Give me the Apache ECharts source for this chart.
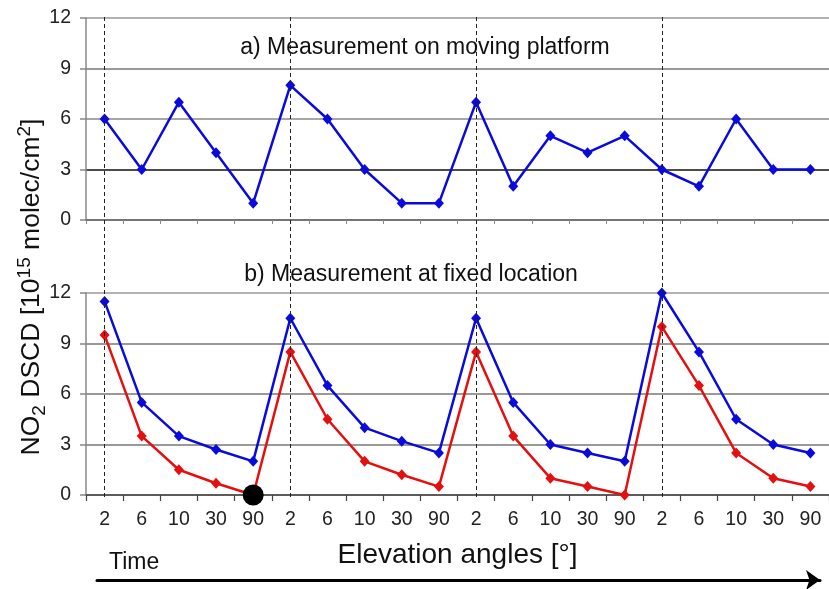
<!DOCTYPE html>
<html><head><meta charset="utf-8">
<script src="https://cdn.jsdelivr.net/npm/echarts@6/dist/echarts.min.js"></script>
<style>html,body{margin:0;padding:0;background:#fff}#c{width:829px;height:589px}</style>
</head><body><div id="c"></div>
<script>
const categories = ['2','6','10','30','90','2','6','10','30','90','2','6','10','30','90','2','6','10','30','90'];
const movingPlatform = [6,3,7,4,1,8,6,3,1,1,7,2,5,4,5,3,2,6,3,3];
const fixedBlue = [11.5,5.5,3.5,2.7,2,10.5,6.5,4,3.2,2.5,10.5,5.5,3,2.5,2,12,8.5,4.5,3,2.5];
const fixedRed = [9.5,3.5,1.5,0.7,0,8.5,4.5,2,1.2,0.5,8.5,3.5,1,0.5,0,10,6.5,2.5,1,0.5];
const yMin = 0, yMax = 12, yInterval = 3;
const scanStarts = [0,5,10,15];
const highlightPoint = [4, 0];

const FONT = '"Liberation Sans", Arial, sans-serif';
const BLUE = '#0a0adc', RED = '#e60f0f';

const chart = echarts.init(document.getElementById('c'), null, {renderer:'canvas'});

function yAxisCfg(gridIndex, splitColors){
  return {
    type:'value', gridIndex, min:yMin, max:yMax, interval:yInterval,
    axisLine:{show:true, lineStyle:{color:'#888', width:1.5}},
    axisTick:{show:true, length:6, lineStyle:{color:'#888', width:1.5}},
    axisLabel:{fontFamily:FONT, fontSize:19.5, color:'#222', margin:15},
    splitLine:{show:true, lineStyle:{color:splitColors, width:1.5}}
  };
}
const lineStyleCommon = {width:2.5};

chart.setOption({
  animation:false,
  backgroundColor:'#fff',
  textStyle:{fontFamily:FONT},
  title:[
    {text:'a) Measurement on moving platform', left:420, top:31, textAlign:'center',
     textStyle:{fontFamily:FONT, fontSize:23, fontWeight:'normal', color:'#111'}},
    {text:'b) Measurement at fixed location', left:406, top:258, textAlign:'center',
     textStyle:{fontFamily:FONT, fontSize:23, fontWeight:'normal', color:'#111'}},
    {text:'Time', left:104, top:546,
     textStyle:{fontFamily:FONT, fontSize:23, fontWeight:'normal', color:'#111'}}
  ],
  grid:[
    {left:86, right:0, top:18, height:202},
    {left:86, right:0, top:293, height:202},
    {left:86, right:0, top:17, height:480},
    {left:97, right:9, top:578, height:2}
  ],
  xAxis:[
    {type:'category', gridIndex:0, data:categories, boundaryGap:true,
     axisLine:{show:true, lineStyle:{color:'#666', width:1.5}},
     axisTick:{show:true, length:4, lineStyle:{color:'#888'}},
     axisLabel:{show:false}},
    {type:'category', gridIndex:1, data:categories, boundaryGap:true,
     axisLine:{show:true, lineStyle:{color:'#444', width:1.5}},
     axisTick:{show:true, length:6, lineStyle:{color:'#444', width:1.2}},
     axisLabel:{fontFamily:FONT, fontSize:19.5, color:'#222', margin:15, interval:0},
     name:'Elevation angles [°]', nameLocation:'middle', nameGap:46,
     nameTextStyle:{fontFamily:FONT, fontSize:28, color:'#111'}},
    {type:'category', gridIndex:2, data:categories, boundaryGap:true, show:false},
    {type:'value', gridIndex:3, min:0, max:1,
     axisLine:{show:true, symbol:['none','arrow'], symbolSize:[15,14], lineStyle:{color:'#000', width:3}},
     axisTick:{show:false}, axisLabel:{show:false}, splitLine:{show:false}}
  ],
  yAxis:[
    yAxisCfg(0, ['#888','#111','#888','#777','#999']),
    yAxisCfg(1, ['#888','#777','#777','#777','#999']),
    {type:'value', gridIndex:2, min:0, max:1, show:false},
    {type:'value', gridIndex:3, min:0, max:1, show:false}
  ],
  series:[
    {type:'line', name:'scanStarts', xAxisIndex:2, yAxisIndex:2, data:[], z:1,
     markLine:{silent:true, symbol:['none','none'], label:{show:false},
       lineStyle:{type:[4,3], color:'#222', width:1},
       data:scanStarts.map(i=>({xAxis:i}))}},
    {type:'line', name:'moving', xAxisIndex:0, yAxisIndex:0, data:movingPlatform,
     symbol:'diamond', symbolSize:[10,11], color:BLUE, lineStyle:{...lineStyleCommon, color:BLUE}, z:3},
    {type:'line', name:'fixedBlue', xAxisIndex:1, yAxisIndex:1, data:fixedBlue,
     symbol:'diamond', symbolSize:[10,11], color:BLUE, lineStyle:{...lineStyleCommon, color:BLUE}, z:3},
    {type:'line', name:'fixedRed', xAxisIndex:1, yAxisIndex:1, data:fixedRed,
     symbol:'diamond', symbolSize:[10,11], color:RED, lineStyle:{...lineStyleCommon, color:RED}, z:3},
    {type:'scatter', name:'highlight', xAxisIndex:1, yAxisIndex:1, data:[highlightPoint],
     symbol:'circle', symbolSize:21, itemStyle:{color:'#000', opacity:1}, clip:false, z:5}
  ],
  graphic:[
    {type:'text', x:32, y:287, rotation:Math.PI/2, z:10,
     style:{
       text:'{m|NO}{sub|2}{m| DSCD [10}{sup|15}{m| molec/cm}{sup|2}{m|]}',
       align:'center', verticalAlign:'middle', fill:'#111',
       rich:{
         m:{fontFamily:FONT, fontSize:26.5, lineHeight:34, verticalAlign:'middle', fill:'#111'},
         sub:{fontFamily:FONT, fontSize:19, lineHeight:19, verticalAlign:'bottom', fill:'#111'},
         sup:{fontFamily:FONT, fontSize:19, lineHeight:19, verticalAlign:'top', fill:'#111'}
       }
     }}
  ]
});
</script></body></html>
